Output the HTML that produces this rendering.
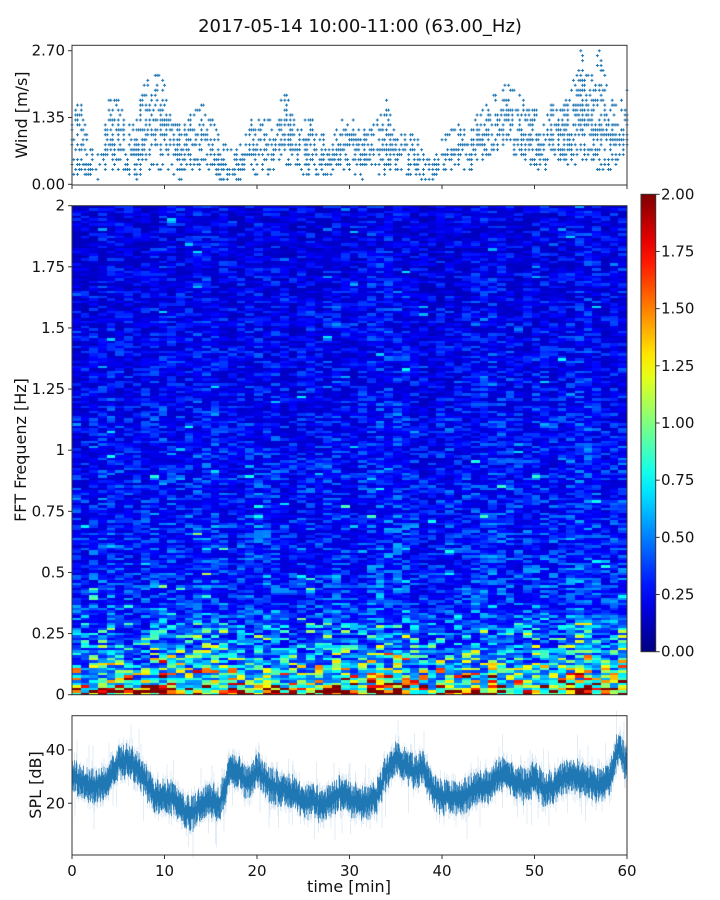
<!DOCTYPE html>
<html><head><meta charset="utf-8"><style>
body{margin:0;background:#fff;width:720px;height:900px;overflow:hidden;position:relative;font-family:"DejaVu Sans","Liberation Sans",sans-serif}
svg{position:absolute;left:0;top:0}
canvas{position:absolute}
</style></head><body>
<canvas id="spec" width="555" height="489" style="left:72px;top:206px;width:555px;height:489px"></canvas>
<svg id="svg" width="720" height="900"></svg>
<script>
// ---- data ----
const windMinutes=[0,1,2,3,4,5,6,7,8,9,10,11,12,13,14,15,16,17,18,19,20,21,22,23,24,25,26,27,28,29,30,31,32,33,34,35,36,37,38,39,40,41,42,43,44,45,46,47,48,49,50,51,52,53,54,55,56,57,58,59,60];
const windMax=[1.5,1.6,0.7,0.6,1.8,1.7,1.1,1.4,2.1,2.2,2.1,1.2,1.2,1.4,1.6,1.4,0.9,0.7,0.7,1.2,1.3,1.3,1.3,1.9,1.3,1.3,1.3,1.0,0.8,1.3,1.3,1.2,1.0,1.3,1.7,0.9,1.0,1.0,0.6,0.4,1.0,1.1,1.2,1.0,1.5,1.6,1.9,2.0,1.9,1.7,1.5,1.3,1.6,1.5,1.9,2.7,2.1,2.7,1.8,1.6,1.9];
const windMin=[0.2,0.2,0.1,0.1,0.3,0.3,0.2,0.1,0.3,0.3,0.3,0.1,0.1,0.3,0.3,0.2,0.1,0.1,0.1,0.3,0.2,0.1,0.3,0.4,0.4,0.2,0.2,0.2,0.2,0.2,0.2,0.1,0.2,0.2,0.2,0.3,0.2,0.2,0.1,0.1,0.3,0.3,0.3,0.3,0.5,0.5,0.7,0.8,0.6,0.5,0.3,0.3,0.5,0.5,0.3,0.5,0.5,0.3,0.3,0.4,0.6];
const splMean=[30,28,26,27,30,35,36,33,28,22,23,22,17,16,20,21,20,31,32,27,33,28,26,25,24,20,21,19,21,24,21,21,20,23,32,37,34,32,33,25,22,23,22,24,26,26,31,30,28,26,30,25,26,29,31,29,28,27,28,40,35];
const freqProfile=[1.8,0.9,0.72,0.58,0.5,0.45,0.42,0.39,0.36,0.35,0.34,0.33,0.33,0.33,0.32,0.31,0.31,0.30,0.30,0.29,0.29,0.28,0.28,0.28,0.27,0.27,0.26,0.26,0.26,0.25,0.25,0.25,0.24,0.24,0.24,0.24,0.23,0.23,0.23,0.23,0.23];
const colGain=[1.0,0.95,1.0,1.05,1.1,1.05,1.0,0.95,1.0,1.1,1.15,1.1,1.05,1.0,1.15,1.2,1.1,1.05,1.0,1.0,1.05,1.1,1.05,1.1,1.0,0.95,1.0,1.05,1.0,1.1,1.1,1.05,1.0,1.05,1.1,1.2,1.2,1.15,1.1,1.0,0.9,0.9,1.0,1.05,1.0,1.05,1.1,1.1,1.15,1.1,1.05,1.0,1.05,1.1,1.1,1.0,1.05,1.1,1.2,1.25,1.1,1.0,1.05,1.15];
const timeTicks=[0,10,20,30,40,50,60];
const windTicks=["0.00","1.35","2.70"];
const freqTicks=["0","0.25","0.5","0.75","1","1.25","1.5","1.75","2"];
const splTicks=[20,40];
const cbTicks=["0.00","0.25","0.50","0.75","1.00","1.25","1.50","1.75","2.00"];

// ---- helpers ----
const NS="http://www.w3.org/2000/svg";
const svg=document.getElementById('svg');
function mk(tag,attrs,parent){const e=document.createElementNS(NS,tag);for(const k in attrs)e.setAttribute(k,attrs[k]);(parent||svg).appendChild(e);return e;}
function txt(s,attrs,parent){const e=mk('text',Object.assign({'font-size':15,fill:'#111'},attrs),parent);e.textContent=s;return e;}
function hash(a,b){let h=(a*374761393+b*668265263)|0;h=(h^(h>>>13))*1274126177|0;h=h^(h>>>16);return ((h>>>0)%100000)/100000;}
const X0=72,X1=627;
const xT=t=>X0+(X1-X0)*t/60;
function interp(arr,t){const i=Math.min(Math.floor(t),arr.length-2);const f=t-i;return arr[i]*(1-f)+arr[i+1]*f;}

// title
const title=txt('2017-05-14 10:00-11:00 (63.00_Hz)',{x:360,y:32,'font-size':18,'text-anchor':'middle'});


// ---- wind panel ----
const wY0=184.3,wScale=133.6/2.7;
const wy=v=>wY0-v*wScale;
const gw=mk('g',{});
const gwPts=mk('g',{stroke:'#1f77b4','stroke-width':1},gw);

let d='';
for(let s=0;s<=300;s++){const t=s/5;const mx=interp(windMax,t),mn=interp(windMin,t);const x=xT(t);
 const lvls=Math.round((mx-mn)/0.1);
 for(let k=0;k<=lvls;k++){ const h=hash(s,k);
  const center=Math.abs(k/lvls-0.45);
  if(h<0.4+center*0.7) continue;
  const v=Math.round((mn+k*0.1)*10)/10;const y=wy(v);
  d+=`M${(x-1.5).toFixed(1)} ${y.toFixed(1)}h3M${x.toFixed(1)} ${(y-1.5).toFixed(1)}v3`;}
 const vt=Math.round(mx*10)/10; if(hash(s,77)<0.3){const y=wy(vt);d+=`M${(x-1.5).toFixed(1)} ${y.toFixed(1)}h3M${x.toFixed(1)} ${(y-1.5).toFixed(1)}v3`;}
}
mk('path',{d:d},gwPts);
mk('rect',{x:X0,y:45.3,width:X1-X0,height:139.7,fill:'none',stroke:'#333','stroke-width':1},gw);
windTicks.forEach(s=>{const y=wy(parseFloat(s));mk('line',{x1:X0-4,x2:X0,y1:y,y2:y,stroke:'#333'},gw);txt(s,{x:X0-7,y:y+5,'text-anchor':'end'},gw);});
timeTicks.forEach(t=>mk('line',{x1:xT(t),x2:xT(t),y1:185,y2:189,stroke:'#333'},gw));
const wl=txt('Wind [m/s]',{x:0,y:0,transform:'translate(27,115) rotate(-90)','text-anchor':'middle','font-size':16},gw);


// ---- spectrogram ----
function jet(v){v=Math.max(0,Math.min(1,v));
 const r=Math.max(0,Math.min(1,1.5-Math.abs(4*v-3))),g=Math.max(0,Math.min(1,1.5-Math.abs(4*v-2))),b=Math.max(0,Math.min(1,1.5-Math.abs(4*v-1)));
 return `rgb(${r*255|0},${g*255|0},${b*255|0})`;}
const cv=document.getElementById('spec'),ctx=cv.getContext('2d');
const nCols=colGain.length,nRows=196,W=555,H=489;
for(let c=0;c<nCols;c++){const x0=Math.round(c*W/nCols),x1=Math.round((c+1)*W/nCols);
 for(let r=0;r<nRows;r++){const f=(r+0.5)/nRows*2;const p=interp(freqProfile,f/0.05);
  const n=hash(c,r),n2=hash(r,c+500);
  const low=f<0.3;
  let v=p*colGain[c]*(low?(0.4+1.7*n*n*n+0.6*n2*n2):(0.5+1.1*n*n+(n2>0.985?1.2:0)));
  const y0=Math.round(H-(r+1)*H/nRows),y1=Math.round(H-r*H/nRows);
  ctx.fillStyle=jet(v/2);ctx.fillRect(x0,y0,x1-x0,y1-y0);}}
const gs=mk('g',{});
mk('rect',{x:X0,y:205.7,width:X1-X0,height:489,fill:'none',stroke:'#333'},gs);
freqTicks.forEach(s=>{const y=694.7-parseFloat(s)/2*489;mk('line',{x1:X0-4,x2:X0,y1:y,y2:y,stroke:'#333'},gs);txt(s,{x:X0-7,y:y+5,'text-anchor':'end'},gs);});
const fl=txt('FFT Frequenz [Hz]',{x:0,y:0,transform:'translate(26,450) rotate(-90)','text-anchor':'middle','font-size':16},gs);


// ---- colorbar ----
const defs=mk('defs',{});const lg=mk('linearGradient',{id:'jet',x1:0,y1:1,x2:0,y2:0},defs);
for(let i=0;i<=20;i++)mk('stop',{offset:i/20,'stop-color':jet(i/20)},lg);
const gc=mk('g',{});
mk('rect',{x:641,y:194.3,width:14.7,height:457.4,fill:'url(#jet)',stroke:'#333'},gc);
cbTicks.forEach(s=>{const y=651.7-parseFloat(s)/2*457.4;mk('line',{x1:655.7,x2:659.7,y1:y,y2:y,stroke:'#333'},gc);txt(s,{x:661,y:y+5},gc);});

// ---- SPL panel ----
const sy=v=>856.6-v*2.667;
const gp=mk('g',{});
const gl=mk('g',{},gp);
let dl='',dd='';
for(let i=0;i<=(X1-X0)*2;i++){const x=X0+i/2;const t=(x-X0)/(X1-X0)*60;const m=interp(splMean,t);
 const a=hash(i,7),b=hash(i,13);const j=(hash(i,3)-0.5)*5;
 const lo=m+j-4-a*a*5*(a>0.96?2.2:1),hi=m+j+4+b*b*5*(b>0.97?2:1);
 dl+=`M${x} ${sy(lo).toFixed(1)}V${sy(hi).toFixed(1)}`;
 dd+=`M${x} ${sy(m+j-3.5-a*1.5).toFixed(1)}V${sy(m+j+3.5+b*1.5).toFixed(1)}`;}
mk('path',{d:dl,stroke:'#1f77b4','stroke-opacity':0.22,'stroke-width':0.6},gl);
mk('path',{d:dd,stroke:'#1f77b4','stroke-width':0.7},gl);
mk('rect',{x:X0,y:715.7,width:X1-X0,height:139.3,fill:'none',stroke:'#333'},gp);
splTicks.forEach(v=>{const y=sy(v);mk('line',{x1:X0-4,x2:X0,y1:y,y2:y,stroke:'#333'},gp);txt(String(v),{x:X0-7,y:y+5,'text-anchor':'end'},gp);});
timeTicks.forEach(t=>{const x=xT(t);mk('line',{x1:x,x2:x,y1:855,y2:859,stroke:'#333'},gp);txt(String(t),{x:x,y:876,'text-anchor':'middle'},gp);});
const sl=txt('SPL [dB]',{x:0,y:0,transform:'translate(41,785) rotate(-90)','text-anchor':'middle','font-size':16},gp);

const tl=txt('time [min]',{x:349,y:892,'text-anchor':'middle','font-size':16},gp);

</script>
</body></html>
